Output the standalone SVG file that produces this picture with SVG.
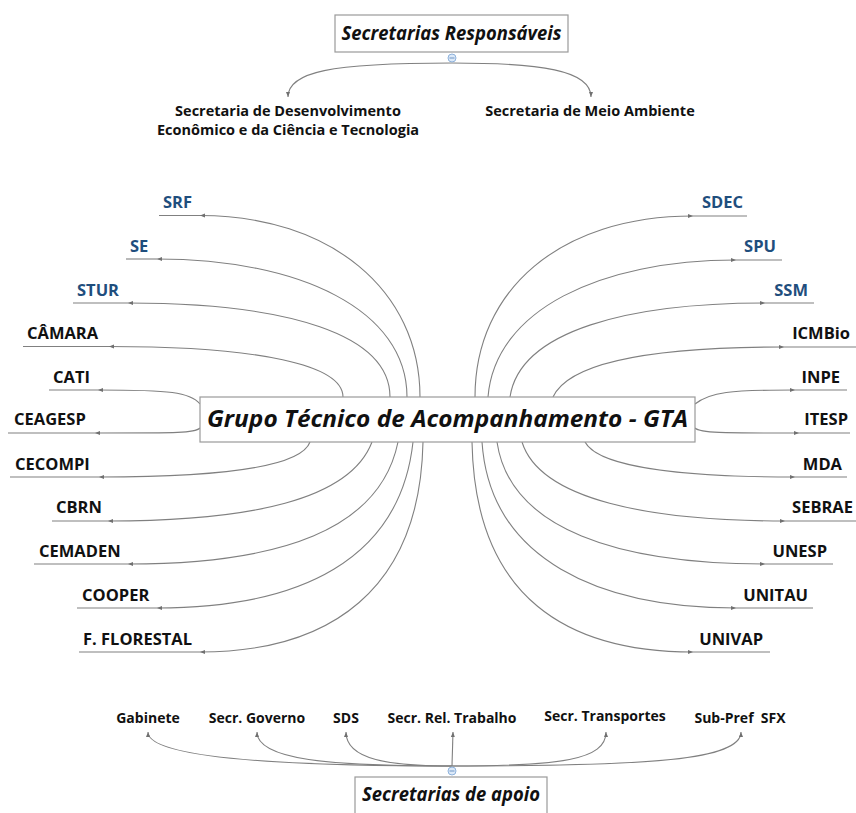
<svg xmlns="http://www.w3.org/2000/svg" width="856" height="813" viewBox="0 0 856 813">
<defs>
<style>
.lbl{font-family:"Open Sans","Liberation Sans",sans-serif;font-weight:bold;font-size:16.5px;fill:#111}
.blue{fill:#1f4e7d}
.sm{font-family:"Open Sans","Liberation Sans",sans-serif;font-weight:bold;font-size:14px;fill:#111}
.tp{font-size:14.5px}
.ttl{font-family:"Open Sans","Liberation Sans",sans-serif;font-weight:bold;font-style:italic;fill:#111}
.box{fill:#fff;stroke:#9a9a9a;stroke-width:1.2}
.c{fill:none;stroke:#808080;stroke-width:1.1}
.u{stroke:#808080;stroke-width:1.1}
.ic{fill:#dce9f8;stroke:#8eb2dc;stroke-width:1}
</style>
<marker id="a" markerWidth="6" markerHeight="6" refX="5" refY="3" orient="auto" markerUnits="userSpaceOnUse"><path d="M0,1 L5,3 L0,5 z" fill="#707070"/></marker>
</defs>
<rect width="856" height="813" fill="#fff"/>

<g id="connectors">
<path class="c" d="M452,63 C330,63 288,72 288,97" marker-end="url(#a)"/>
<path class="c" d="M452,63 C540,63 591,70 591,97" marker-end="url(#a)"/>
<path class="c" d="M420,397 C420,290 330,215.5 200,215.5" marker-end="url(#a)"/>
<path class="c" d="M407,397 C407,310 300,259 157,259" marker-end="url(#a)"/>
<path class="c" d="M390,397 C390,335 290,303 128,303" marker-end="url(#a)"/>
<path class="c" d="M343,397 C343,365 260,346.5 109,346.5" marker-end="url(#a)"/>
<path class="c" d="M200,404 C190,392 170,390 98,390" marker-end="url(#a)"/>
<path class="c" d="M200,428 C195,433 180,433 95,433" marker-end="url(#a)"/>
<path class="c" d="M310,442 C300,470 200,477 99,477" marker-end="url(#a)"/>
<path class="c" d="M372,442 C350,500 250,521 108,521" marker-end="url(#a)"/>
<path class="c" d="M398,442 C380,530 280,564 128,564" marker-end="url(#a)"/>
<path class="c" d="M413,442 C400,560 300,608 157,608" marker-end="url(#a)"/>
<path class="c" d="M423,442 C420,590 330,652 200,652" marker-end="url(#a)"/>
<path class="c" d="M475,397 C475,290 560,216 693,216" marker-end="url(#a)"/>
<path class="c" d="M488,397 C495,310 600,260 736,260" marker-end="url(#a)"/>
<path class="c" d="M510,397 C520,330 630,303 765,303" marker-end="url(#a)"/>
<path class="c" d="M553,397 C570,360 660,347 784,347" marker-end="url(#a)"/>
<path class="c" d="M695,404 C710,392 730,390 795,390" marker-end="url(#a)"/>
<path class="c" d="M695,428 C700,433 720,433 799,433" marker-end="url(#a)"/>
<path class="c" d="M585,442 C600,470 700,477 795,477" marker-end="url(#a)"/>
<path class="c" d="M522,442 C540,500 650,521 785,521" marker-end="url(#a)"/>
<path class="c" d="M497,442 C510,530 620,564 765,564" marker-end="url(#a)"/>
<path class="c" d="M482,442 C490,560 600,608 736,608" marker-end="url(#a)"/>
<path class="c" d="M472,442 C475,600 570,652 693,652" marker-end="url(#a)"/>
<path class="c" d="M452,766 C300,766 148,760 148,732" marker-end="url(#a)"/>
<path class="c" d="M452,766 C330,766 257,760 257,732" marker-end="url(#a)"/>
<path class="c" d="M452,766 C390,766 346,760 346,732" marker-end="url(#a)"/>
<path class="c" d="M452,766 L453,732" marker-end="url(#a)"/>
<path class="c" d="M452,766 C560,766 606,760 606,732" marker-end="url(#a)"/>
<path class="c" d="M452,766 C650,766 741,760 741,732" marker-end="url(#a)"/>
</g>

<g id="responsaveis">
<rect class="box" x="335" y="15" width="233" height="37"/>
<text class="ttl" x="451.5" y="39.5" font-size="19" text-anchor="middle" textLength="220" lengthAdjust="spacingAndGlyphs">Secretarias Responsáveis</text>
<circle class="ic" cx="452" cy="58" r="4"/>
<line x1="449.5" y1="58" x2="454.5" y2="58" stroke="#6f95c4" stroke-width="1"/>
</g>
<g id="sdect">
<text class="sm tp" x="288" y="116" text-anchor="middle">Secretaria de Desenvolvimento</text>
<text class="sm tp" x="288" y="135" text-anchor="middle">Econômico e da Ciência e Tecnologia</text>
</g>
<g id="sma"><text class="sm tp" x="590" y="116" text-anchor="middle">Secretaria de Meio Ambiente</text></g>

<g id="gta">
<rect class="box" x="200" y="397" width="495" height="45"/>
<text class="ttl" x="207" y="427" font-size="23" textLength="481" lengthAdjust="spacingAndGlyphs">Grupo Técnico de Acompanhamento - GTA</text>
</g>

<g id="srf"><line class="u" x1="159" y1="215.5" x2="200" y2="215.5"/><text class="lbl blue" x="163" y="208">SRF</text></g>
<g id="se"><line class="u" x1="126" y1="259" x2="157" y2="259"/><text class="lbl blue" x="130" y="252">SE</text></g>
<g id="stur"><line class="u" x1="73" y1="303" x2="128" y2="303"/><text class="lbl blue" x="77" y="295.5">STUR</text></g>
<g id="camara"><line class="u" x1="23" y1="346.5" x2="109" y2="346.5"/><text class="lbl" x="27" y="339">CÂMARA</text></g>
<g id="cati"><line class="u" x1="49" y1="390" x2="98" y2="390"/><text class="lbl" x="53" y="383">CATI</text></g>
<g id="ceagesp"><line class="u" x1="8" y1="433" x2="95" y2="433"/><text class="lbl" x="14" y="425">CEAGESP</text></g>
<g id="cecompi"><line class="u" x1="10" y1="477" x2="99" y2="477"/><text class="lbl" x="15" y="469.5">CECOMPI</text></g>
<g id="cbrn"><line class="u" x1="52" y1="521" x2="108" y2="521"/><text class="lbl" x="56" y="513">CBRN</text></g>
<g id="cemaden"><line class="u" x1="34" y1="564" x2="128" y2="564"/><text class="lbl" x="39" y="557">CEMADEN</text></g>
<g id="cooper"><line class="u" x1="77" y1="608" x2="157" y2="608"/><text class="lbl" x="82" y="601">COOPER</text></g>
<g id="florestal"><line class="u" x1="79" y1="652" x2="200" y2="652"/><text class="lbl" x="83" y="645">F. FLORESTAL</text></g>

<g id="sdec"><line class="u" x1="693" y1="216" x2="747" y2="216"/><text class="lbl blue" x="743" y="208" text-anchor="end">SDEC</text></g>
<g id="spu"><line class="u" x1="736" y1="260" x2="782" y2="260"/><text class="lbl blue" x="776" y="252" text-anchor="end">SPU</text></g>
<g id="ssm"><line class="u" x1="765" y1="303" x2="814" y2="303"/><text class="lbl blue" x="808" y="295.5" text-anchor="end">SSM</text></g>
<g id="icmbio"><line class="u" x1="784" y1="347" x2="856" y2="347"/><text class="lbl" x="850" y="339" text-anchor="end">ICMBio</text></g>
<g id="inpe"><line class="u" x1="795" y1="390" x2="847" y2="390"/><text class="lbl" x="840" y="383" text-anchor="end">INPE</text></g>
<g id="itesp"><line class="u" x1="799" y1="433" x2="850" y2="433"/><text class="lbl" x="848" y="425" text-anchor="end">ITESP</text></g>
<g id="mda"><line class="u" x1="795" y1="477" x2="847" y2="477"/><text class="lbl" x="842" y="469.5" text-anchor="end">MDA</text></g>
<g id="sebrae"><line class="u" x1="785" y1="521" x2="856" y2="521"/><text class="lbl" x="853" y="513" text-anchor="end">SEBRAE</text></g>
<g id="unesp"><line class="u" x1="765" y1="564" x2="833" y2="564"/><text class="lbl" x="827" y="557" text-anchor="end">UNESP</text></g>
<g id="unitau"><line class="u" x1="736" y1="608" x2="813" y2="608"/><text class="lbl" x="808" y="601" text-anchor="end">UNITAU</text></g>
<g id="univap"><line class="u" x1="693" y1="652" x2="770" y2="652"/><text class="lbl" x="763" y="645" text-anchor="end">UNIVAP</text></g>

<g id="gabinete"><text class="sm" x="148" y="723" text-anchor="middle">Gabinete</text></g>
<g id="governo"><text class="sm" x="257" y="723" text-anchor="middle">Secr. Governo</text></g>
<g id="sds"><text class="sm" x="346" y="723" text-anchor="middle">SDS</text></g>
<g id="trabalho"><text class="sm" x="452" y="723" text-anchor="middle">Secr. Rel. Trabalho</text></g>
<g id="transportes"><text class="sm" x="605" y="721" text-anchor="middle">Secr. Transportes</text></g>
<g id="subpref"><text class="sm" x="740" y="723" text-anchor="middle" xml:space="preserve">Sub-Pref  SFX</text></g>
<g id="apoio">
<rect class="box" x="355" y="777" width="192" height="40"/>
<text class="ttl" x="451" y="801" font-size="19" text-anchor="middle" textLength="178" lengthAdjust="spacingAndGlyphs">Secretarias de apoio</text>
<circle class="ic" cx="452" cy="771" r="4"/>
<line x1="449.5" y1="771" x2="454.5" y2="771" stroke="#6f95c4" stroke-width="1"/>
</g>
</svg>
